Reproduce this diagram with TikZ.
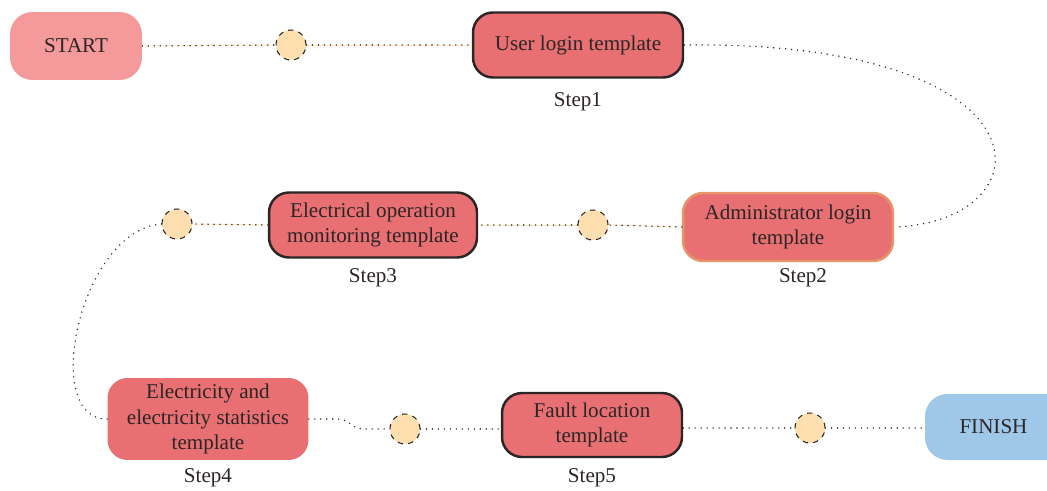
\documentclass[tikz,border=0pt]{standalone}
\usepackage{fontspec}
\setmainfont{Liberation Serif}
\usetikzlibrary{positioning}

\definecolor{boxred}{HTML}{E87073}
\definecolor{startpink}{HTML}{F59A9B}
\definecolor{finishblue}{HTML}{9FC8E8}
\definecolor{dotbeige}{HTML}{FFDFB0}
\definecolor{rimorange}{HTML}{E8956A}
\definecolor{inkgray}{HTML}{2B2526}

\tikzstyle{tpl} = [rectangle, rounded corners=0.4cm, fill=boxred, text=inkgray, align=center, font=\fontsize{12}{14.7}\selectfont, inner sep=2pt]
\tikzstyle{rim} = [draw=inkgray, line width=1.4pt]
\tikzstyle{term} = [rectangle, rounded corners=0.45cm, text=inkgray, align=center, font=\fontsize{12}{14.7}\selectfont]
\tikzstyle{hole} = [circle, fill=dotbeige, draw=inkgray, dashed, line width=0.6pt, minimum size=0.6cm, inner sep=0pt]
\tikzstyle{steplbl} = [text=inkgray, font=\fontsize{12}{14}\selectfont]
\tikzstyle{path} = [line width=0.9pt, line cap=round, dash pattern=on 0pt off 3.4pt, draw=inkgray]
\tikzstyle{glow} = [draw=dotbeige!80, line width=0.5pt]

\begin{document}
\begin{tikzpicture}[x=0.02cm, y=-0.02cm]
\useasboundingbox (0,0) rectangle (1047,490);
\clip (0,0) rectangle (1047,490);
%row1
\node[term, fill=startpink, minimum width=2.64cm, minimum height=1.36cm] (start) at (76,46) {START};
\node[hole] (c1) at (291,45) {};
\node[tpl, rim, minimum width=4.2cm, minimum height=1.3cm] (user) at (578,45) {User login template};
\node[steplbl] (step1) at (578,102) {Step1};
%row2
\node[tpl, draw=rimorange, line width=1.4pt, minimum width=4.2cm, minimum height=1.36cm] (admin) at (788,227) {Administrator login\\template};
\node[steplbl] (step2) at (803,278) {Step2};
\node[hole] (c2) at (593,225) {};
\node[tpl, rim, minimum width=4.16cm, minimum height=1.3cm] (elecop) at (373,225) {Electrical operation\\monitoring template};
\node[steplbl] (step3) at (373,278) {Step3};
\node[hole] (c3) at (177,224) {};
%row3
\node[tpl, minimum width=4.02cm, minimum height=1.64cm] (elecstat) at (208,419) {Electricity and\\electricity statistics\\template};
\node[steplbl] (step4) at (208,478) {Step4};
\node[hole] (c4) at (405,429) {};
\node[tpl, rim, minimum width=3.6cm, minimum height=1.28cm] (fault) at (592,425) {Fault location\\template};
\node[steplbl] (step5) at (592,478) {Step5};
\node[hole] (c5) at (810,428) {};
\node[term, fill=finishblue, minimum width=3cm, minimum height=1.32cm, text width=1.62cm, align=left] (finish) at (1000,427) {FINISH};
%begin connectors
\draw[glow] (start.east) -- (c1.west);
\draw[glow] (c1.east) -- (user.west);
\draw[glow] (c3.east) -- (elecop.west);
\draw[glow] (elecop.east) -- (c2.west);
\draw[glow] (c2.east) -- (admin.west);
\draw[path] (start.east) -- (c1.west);
\draw[path] (c1.east) -- (user.west);
\draw[path] (user.east) .. controls (1058,40) and (1050,222) .. (admin.east);
\draw[path] (admin.west) -- (c2.east);
\draw[path] (c2.west) -- (elecop.east);
\draw[path] (elecop.west) -- (c3.east);
\draw[path] (c3.west) .. controls (80,230) and (40,420) .. (elecstat.west);
\draw[path, rounded corners=4pt] (elecstat.east) -- (345,419) -- (356,429) -- (c4.west);
\draw[path] (c4.east) -- (fault.west |- c4);
\draw[path] (fault.east |- c5) -- (c5.west);
\draw[path] (c5.east) -- (finish.west |- c5);
%end connectors
\end{tikzpicture}
\end{document}
